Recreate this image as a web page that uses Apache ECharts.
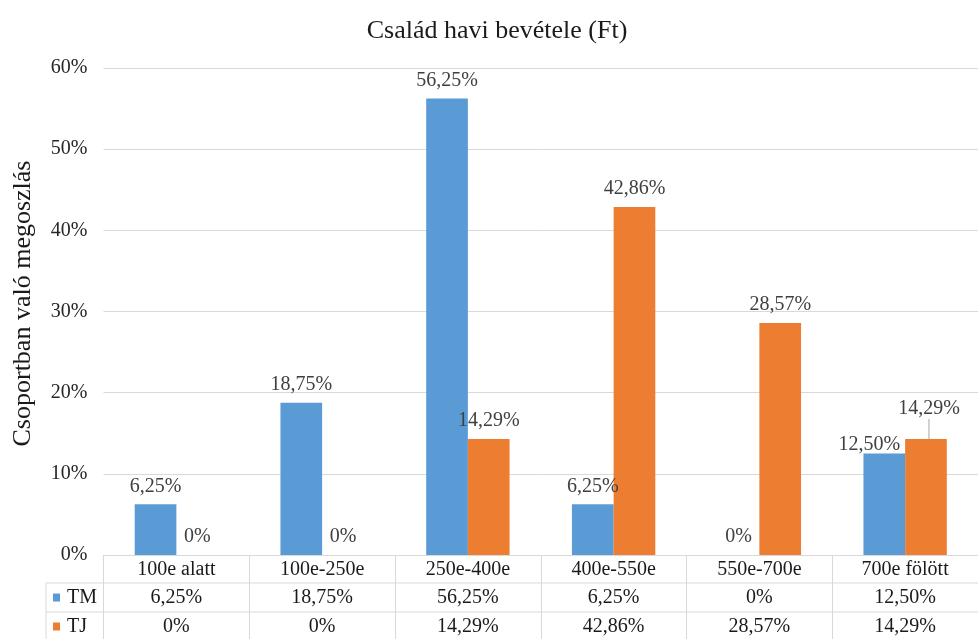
<!DOCTYPE html>
<html>
<head>
<meta charset="utf-8">
<script src="https://cdn.jsdelivr.net/npm/echarts@6/dist/echarts.min.js"></script>
<style>
  html, body { margin: 0; padding: 0; background: #fff; }
  #chart { width: 978px; height: 639px; }
</style>
</head>
<body>
<div id="chart"></div>
<script>
// Income brackets and the share of each group falling into them (percent)
const categories = ['100e alatt', '100e-250e', '250e-400e', '400e-550e', '550e-700e', '700e fölött'];
const seriesNames = ['TM', 'TJ'];
const tmValues = [6.25, 18.75, 56.25, 6.25, 0, 12.50];
const tjValues = [0, 0, 14.29, 42.86, 28.57, 14.29];
const yTicks = [0, 10, 20, 30, 40, 50, 60];

const titleText = 'Család havi bevétele (Ft)';
const yAxisTitle = 'Csoportban való megoszlás';

const COLORS = ['#5B9BD5', '#ED7D31'];
const FONT = '"Liberation Serif", "Times New Roman", serif';
const GRID = { left: 103.5, top: 68, width: 881, height: 487 };
const ROW_H = [28, 29, 29];
const LINE = '#d9d9d9';

// Hungarian number format: decimal comma, two decimals, plain 0%
function pct(v) {
  return v === 0 ? '0%' : v.toFixed(2).replace('.', ',') + '%';
}

const chart = echarts.init(document.getElementById('chart'), null, { renderer: 'canvas' });

// the last bracket's labels are nudged apart; the lifted one gets a leader line
const lastIdx = categories.length - 1;

function barSeries(name, values, idx, shift, leader) {
  return {
    name: name,
    type: 'bar',
    data: values.map((v, i) => (i === lastIdx && leader
      ? { value: v, labelLine: { show: true } }
      : v)),
    barWidth: '28.6%',
    barGap: '0%',
    itemStyle: { color: COLORS[idx] },
    label: {
      show: true,
      position: 'top',
      distance: 8,
      formatter: p => pct(p.value),
      fontFamily: FONT,
      fontSize: 20,
      color: '#404040'
    },
    labelLayout: p => (p.dataIndex === lastIdx ? shift : {}),
    labelLine: {
      show: false,
      lineStyle: { color: '#a6a6a6', width: 1 }
    },
    emphasis: { disabled: true },
    animation: false
  };
}

const option = {
  animation: false,
  title: {
    text: titleText,
    left: 492,
    top: 13,
    textAlign: 'center',
    textStyle: { fontFamily: FONT, fontSize: 26, fontWeight: 'normal', color: '#1a1a1a' }
  },
  grid: { left: GRID.left, top: GRID.top, width: GRID.width, height: GRID.height, containLabel: false },
  xAxis: {
    type: 'category',
    data: categories,
    axisLine: { show: true, lineStyle: { color: LINE, width: 1 } },
    axisTick: { show: true, length: ROW_H[0] + ROW_H[1] + ROW_H[2], lineStyle: { color: LINE, width: 1 } },
    axisLabel: {
      margin: 5,
      fontFamily: FONT,
      fontSize: 20,
      color: '#1a1a1a'
    }
  },
  yAxis: {
    type: 'value',
    min: yTicks[0],
    max: yTicks[yTicks.length - 1],
    interval: yTicks[1] - yTicks[0],
    name: yAxisTitle,
    nameLocation: 'middle',
    nameRotate: 90,
    nameGap: 67,
    nameTextStyle: { fontFamily: FONT, fontSize: 26, color: '#1a1a1a', padding: [0, 0, 0, 16] },
    axisLine: { show: false },
    axisTick: { show: false },
    axisLabel: {
      margin: 16,
      formatter: '{value}%',
      fontFamily: FONT,
      fontSize: 20,
      color: '#262626'
    },
    splitLine: { lineStyle: { color: LINE, width: 1 } }
  },
  series: [
    barSeries(seriesNames[0], tmValues, 0, { dx: -15, dy: 9 }, false),
    barSeries(seriesNames[1], tjValues, 1, { dx: 3, dy: -12 }, true)
  ]
};

chart.setOption(option);

// Data table beneath the axis: one row per series with a colour key
function buildTable() {
  const baseY = GRID.top + GRID.height;
  const keyLeft = 46;
  const gridRight = GRID.left + GRID.width;
  const rows = [tmValues, tjValues];
  const els = [];
  let y = baseY + ROW_H[0];
  for (let r = 0; r < rows.length; r++) {
    // rule above this series row
    els.push({
      type: 'line', silent: true,
      shape: { x1: keyLeft, y1: y, x2: gridRight, y2: y },
      style: { stroke: LINE, lineWidth: 1 }
    });
    const mid = y + ROW_H[r + 1] / 2;
    els.push({
      type: 'rect', silent: true,
      shape: { x: keyLeft + 7, y: mid - 4, width: 7, height: 8 },
      style: { fill: COLORS[r] }
    });
    els.push({
      type: 'text', silent: true,
      style: {
        x: keyLeft + 21, y: mid, text: seriesNames[r],
        font: '20px ' + FONT, fill: '#1a1a1a', textVerticalAlign: 'middle'
      }
    });
    rows[r].forEach((v, i) => {
      const cx = chart.convertToPixel({ xAxisIndex: 0 }, i);
      els.push({
        type: 'text', silent: true,
        style: {
          x: cx, y: mid, text: pct(v),
          font: '20px ' + FONT, fill: '#1a1a1a',
          textAlign: 'center', textVerticalAlign: 'middle'
        }
      });
    });
    y += ROW_H[r + 1];
  }
  // left border of the key column
  els.push({
    type: 'line', silent: true,
    shape: { x1: keyLeft, y1: baseY + ROW_H[0], x2: keyLeft, y2: baseY + ROW_H[0] + ROW_H[1] + ROW_H[2] },
    style: { stroke: LINE, lineWidth: 1 }
  });
  chart.setOption({ graphic: { elements: els } });
}
buildTable();
</script>
</body>
</html>
